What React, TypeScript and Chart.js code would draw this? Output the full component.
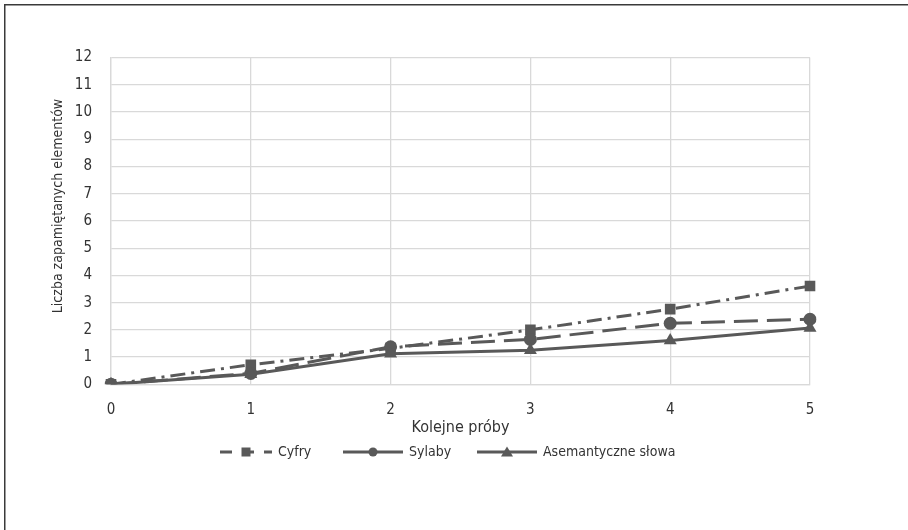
import React, { useEffect, useRef } from "react";
import { Chart, registerables } from "chart.js";

Chart.register(...registerables);

const trials = ["0", "1", "2", "3", "4", "5"];
const cyfry = [0, 0.72, 1.32, 2.0, 2.76, 3.61];
const sylaby = [0, 0.4, 1.38, 1.65, 2.24, 2.39];
const asemantyczne = [0, 0.37, 1.12, 1.25, 1.61, 2.07];
const seriesNames = ["Cyfry", "Sylaby", "Asemantyczne słowa"];
const xTitle = "Kolejne próby";
const yTitle = "Liczba zapamiętanych elementów";
const yMin = 0;
const yMax = 12;
const yStep = 1;

const FONT = '"DejaVu Sans Condensed", "DejaVu Sans", sans-serif';
const TEXT = "#333333";
const SERIES = "#595959";
const GRID = "#d9d9d9";

const dashes: number[][] = [[15, 6, 3, 6], [24, 9], []];
const markers = ["rect", "circle", "triangle"];
const legendX = [220, 343, 477];
const legendLine = [52, 60, 60];

function drawMarker(ctx: CanvasRenderingContext2D, kind: string, x: number, y: number, s: number) {
  ctx.beginPath();
  if (kind === "rect") {
    ctx.rect(x - s / 2, y - s / 2, s, s);
  } else if (kind === "circle") {
    ctx.arc(x, y, s / 2, 0, Math.PI * 2);
  } else {
    const h = s * 0.9;
    ctx.moveTo(x, y - h / 2 - 1);
    ctx.lineTo(x + s / 2 + 1, y + h / 2);
    ctx.lineTo(x - s / 2 - 1, y + h / 2);
    ctx.closePath();
  }
  ctx.fill();
}

const decorPlugin = {
  id: "decor",
  beforeDraw(chart: any) {
    const ctx = chart.ctx as CanvasRenderingContext2D;
    ctx.save();
    ctx.fillStyle = "#ffffff";
    ctx.fillRect(0, 0, chart.width, chart.height);
    ctx.fillStyle = "#3a3a3a";
    ctx.fillRect(4, 4, chart.width, 1.5);
    ctx.fillRect(4, 4, 1.5, chart.height);
    ctx.restore();
  },
  afterDraw(chart: any) {
    const ctx = chart.ctx as CanvasRenderingContext2D;
    const area = chart.chartArea;
    ctx.save();
    ctx.fillStyle = TEXT;
    ctx.textAlign = "center";
    ctx.textBaseline = "middle";
    ctx.font = `16px ${FONT}`;
    ctx.fillText(xTitle, (area.left + area.right) / 2, 428);
    ctx.font = `14px ${FONT}`;
    ctx.save();
    ctx.translate(58, 206);
    ctx.rotate(-Math.PI / 2);
    ctx.fillText(yTitle, 0, 0);
    ctx.restore();

    const ly = 452;
    ctx.textAlign = "left";
    ctx.font = `14px ${FONT}`;
    seriesNames.forEach((name, i) => {
      const x0 = legendX[i];
      const len = legendLine[i];
      ctx.strokeStyle = SERIES;
      ctx.fillStyle = SERIES;
      ctx.lineWidth = 3;
      ctx.setLineDash(i === 0 ? [12, 10] : []);
      ctx.beginPath();
      ctx.moveTo(x0, ly);
      ctx.lineTo(x0 + len, ly);
      ctx.stroke();
      ctx.setLineDash([]);
      drawMarker(ctx, markers[i], x0 + len / 2, ly, i === 2 ? 10 : 9);
      ctx.fillStyle = TEXT;
      ctx.fillText(name, x0 + len + 6, ly);
    });
    ctx.restore();
  },
};

export default function App() {
  const ref = useRef<HTMLCanvasElement | null>(null);
  useEffect(() => {
    document.body.style.margin = "0";
    const canvas = ref.current;
    if (!canvas) return;
    const values = [cyfry, sylaby, asemantyczne];
    const chart = new Chart(canvas, {
      type: "line",
      data: {
        labels: trials,
        datasets: values.map((v, i) => ({
          label: seriesNames[i],
          data: v,
          borderColor: SERIES,
          backgroundColor: SERIES,
          borderWidth: 3,
          borderDash: dashes[i],
          borderCapStyle: "butt" as const,
          pointStyle: markers[i] as any,
          pointRadius: i === 0 ? 7.5 : i === 1 ? 6.5 : 7.5,
          pointBorderWidth: 0,
          pointBackgroundColor: SERIES,
          tension: 0,
          fill: false,
          order: 2 - i,
        })),
      },
      options: {
        responsive: false,
        animation: false,
        devicePixelRatio: 1,
        layout: { padding: { left: 0, top: 57.6, right: 98, bottom: 100 } },
        plugins: { legend: { display: false }, tooltip: { enabled: false }, title: { display: false } },
        scales: {
          x: {
            type: "category",
            offset: false,
            grid: { color: GRID, lineWidth: 1.3, drawTicks: false },
            border: { color: GRID, width: 1.3 },
            ticks: { color: TEXT, font: { family: FONT, size: 15 }, padding: 17 },
            afterFit: (s: any) => {
              s.height = 530 - 384.3 - 100;
            },
          },
          y: {
            min: yMin,
            max: yMax,
            grid: { color: GRID, lineWidth: 1.3, drawTicks: false },
            border: { color: GRID, width: 1.3 },
            ticks: { stepSize: yStep, color: TEXT, font: { family: FONT, size: 15 }, padding: 19 },
            afterFit: (s: any) => {
              s.width = 111;
            },
          },
        },
      },
      plugins: [decorPlugin],
    });
    return () => chart.destroy();
  }, []);
  return (
    <div style={{ position: "fixed", left: 0, top: 0, width: 908, height: 530, overflow: "hidden", background: "#fff" }}>
      <canvas ref={ref} width={908} height={530} style={{ display: "block", width: 908, height: 530 }} />
    </div>
  );
}
